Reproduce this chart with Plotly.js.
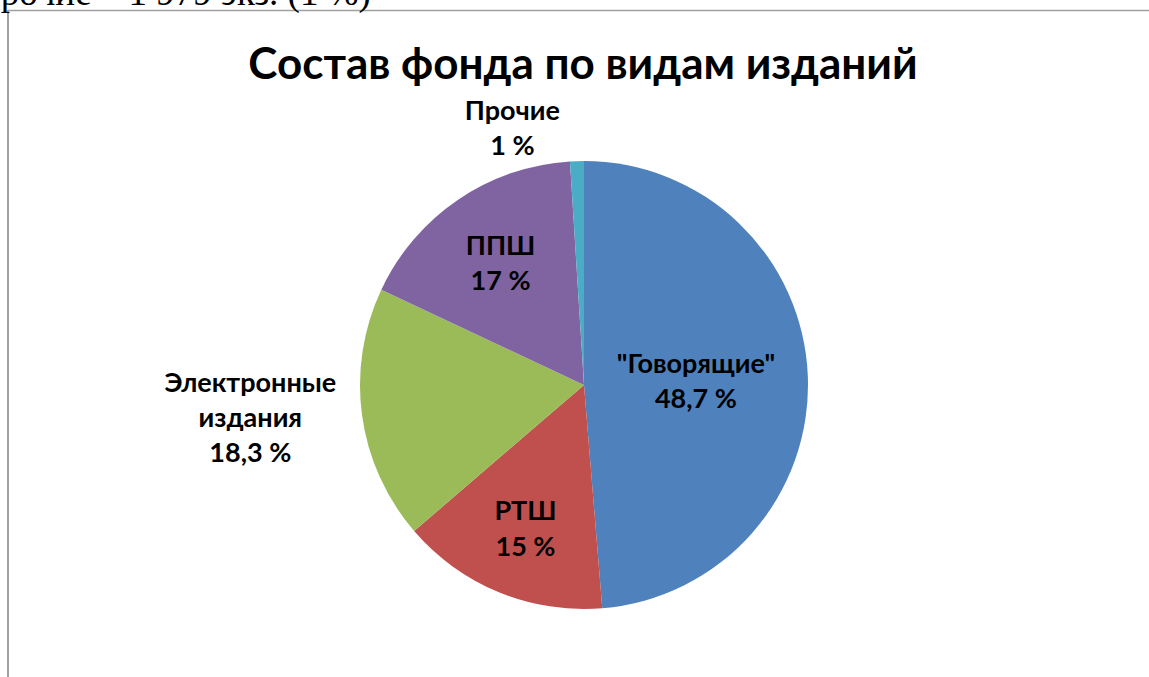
<!DOCTYPE html>
<html>
<head>
<meta charset="utf-8">
<script src="https://cdn.plot.ly/plotly-3.0.1.min.js"></script>
<style>html,body{margin:0;padding:0;background:#fff;}#chart{width:1149px;height:677px;}</style>
</head>
<body>
<div id="chart"></div>
<script>
var categories = ['"Говорящие"', 'РТШ', 'Электронные<br>издания', 'ППШ', 'Прочие'];
var shares = [48.7, 15, 18.3, 17, 1];
var colors = ['#4F81BD', '#C0504D', '#9BBB59', '#8064A2', '#4BACC6'];
var positions = ['inside', 'inside', 'outside', 'inside', 'outside'];
var titleText = 'Состав фонда по видам изданий';
var headerText = 'Прочие – 1 979 экз. (1 %)';

var labelTexts = categories.map(function (c, i) {
  return c + '<br>' + String(shares[i]).replace('.', ',') + ' %';
});

var W = 1149, H = 677;
var cx = 584, cy = 385, r = 224;
var fnt = 'Lato, "Open Sans", sans-serif';

var trace = {
  type: 'pie',
  labels: categories,
  values: shares,
  text: labelTexts,
  textinfo: 'text',
  hoverinfo: 'none',
  sort: false,
  direction: 'clockwise',
  rotation: 0,
  textposition: positions,
  insidetextorientation: 'horizontal',
  marker: {colors: colors, line: {width: 0}},
  textfont: {family: fnt, size: 27, color: '#000', weight: 'bold'},
  insidetextfont: {family: fnt, size: 27, color: '#000', weight: 'bold'},
  outsidetextfont: {family: fnt, size: 27, color: '#000', weight: 'bold'},
  domain: {x: [(cx - r) / W, (cx + r) / W], y: [(H - cy - r) / H, (H - cy + r) / H]},
  showlegend: false
};

var layout = {
  width: W, height: H,
  margin: {l: 0, r: 0, t: 0, b: 0},
  paper_bgcolor: '#fff',
  showlegend: false,
  title: {
    text: '<b>' + titleText + '</b>',
    x: 583 / W, xanchor: 'center',
    y: 1 - 64 / H, yanchor: 'middle',
    font: {family: fnt, size: 44, color: '#000'}
  },
  annotations: [{
    text: headerText, showarrow: false,
    xref: 'paper', yref: 'paper',
    x: -28 / W, xanchor: 'left',
    y: 1 - 16 / H, yanchor: 'bottom',
    font: {family: '"Liberation Serif", serif', size: 37, color: '#000'}
  }],
  shapes: [
    {type: 'line', xref: 'paper', yref: 'paper', x0: 8 / W, x1: 1, y0: 1 - 10.5 / H, y1: 1 - 10.5 / H, line: {color: '#a0a0a0', width: 1.5}},
    {type: 'line', xref: 'paper', yref: 'paper', x0: 8 / W, x1: 8 / W, y0: 0, y1: 1 - 10 / H, line: {color: '#a0a0a0', width: 2}}
  ]
};

Plotly.newPlot('chart', [trace], layout, {displayModeBar: false, staticPlot: true});
</script>
</body>
</html>
